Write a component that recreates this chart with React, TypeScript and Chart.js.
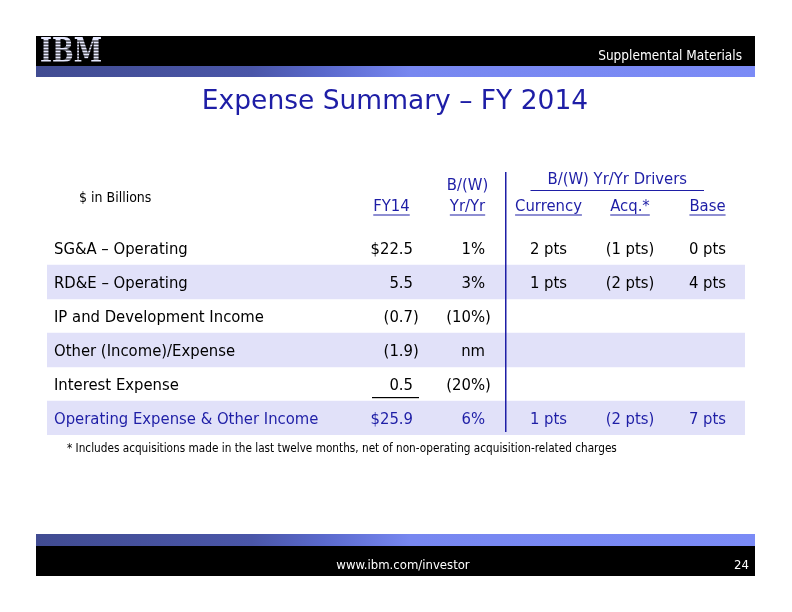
import { useEffect, useRef } from "react";
import { Chart, registerables } from "chart.js";

Chart.register(...registerables);

// ---------- data ----------
const rowLabels = [
  "SG&A – Operating",
  "RD&E – Operating",
  "IP and Development Income",
  "Other (Income)/Expense",
  "Interest Expense",
  "Operating Expense & Other Income",
];
const fy14Values = ["$22.5", "5.5", "(0.7)", "(1.9)", "0.5", "$25.9"];
const yrYrValues = ["1%", "3%", "(10%)", "nm", "(20%)", "6%"];
const currencyValues = ["2 pts", "1 pts", "", "", "", "1 pts"];
const acqValues = ["(1 pts)", "(2 pts)", "", "", "", "(2 pts)"];
const baseValues = ["0 pts", "4 pts", "", "", "", "7 pts"];
const shadedRows = [false, true, false, true, false, true];
const totalRowIndex = 5;
const underlinedRowIndex = 4;

const columnHeaders = ["FY14", "Yr/Yr", "Currency", "Acq.*", "Base"];
const groupHeader = "B/(W) Yr/Yr Drivers";
const yrYrTopHeader = "B/(W)";
const unitsNote = "$ in Billions";
const titleText = "Expense Summary – FY 2014";
const headerRight = "Supplemental Materials";
const footerText = "www.ibm.com/investor";
const pageNumber = "24";
const footnote =
  "* Includes acquisitions made in the last twelve months, net of non-operating acquisition-related charges";

// ---------- styles ----------
const FONT = '"DejaVu Sans Condensed", "DejaVu Sans", sans-serif';
const WIDE_FONT = '"DejaVu Sans", sans-serif';
const BLUE = "#1E1EA6";
const SHADE = "#E1E1F9";
const TABLE_W = 698;
const DY = 1.5;

// column anchors in x-scale units (0..TABLE_W)
const COL = {
  label: 7,
  fy14: 366,
  fy14Head: 344.5,
  yrYr: 438,
  yrYrHead: 420.5,
  divider: 458.5,
  currency: 501.5,
  acq: 583,
  base: 660.5,
  groupL: 483.5,
  groupR: 657,
  units: 32,
};

function drawChrome(ctx: CanvasRenderingContext2D) {
  ctx.save();
  // header bar
  ctx.fillStyle = "#000";
  ctx.fillRect(36, 36, 719, 30);
  const g1 = ctx.createLinearGradient(36, 0, 755, 0);
  g1.addColorStop(0, "#414C92");
  g1.addColorStop(0.3, "#4A56A8");
  g1.addColorStop(0.4, "#5A69CC");
  g1.addColorStop(0.52, "#7787F0");
  g1.addColorStop(1, "#7B8BF6");
  ctx.fillStyle = g1;
  ctx.fillRect(36, 66, 719, 11);

  // footer
  ctx.fillStyle = g1;
  ctx.fillRect(36, 534, 719, 12);
  ctx.fillStyle = "#000";
  ctx.fillRect(36, 546, 719, 30);

  // IBM logo
  ctx.font = `bold 30px "DejaVu Serif Condensed", "DejaVu Serif", serif`;
  const w = ctx.measureText("IBM").width;
  ctx.save();
  ctx.translate(40, 62);
  ctx.scale(62 / w, 24 / 22);
  ctx.fillStyle = "#E8EAFF";
  ctx.textBaseline = "alphabetic";
  ctx.fillText("IBM", 0, 0);
  ctx.restore();
  ctx.fillStyle = "#000";
  for (let y = 40.5; y < 63; y += 3) ctx.fillRect(38, y, 68, 1);

  ctx.fillStyle = "#fff";
  ctx.font = `13.5px ${FONT}`;
  ctx.textBaseline = "middle";
  ctx.textAlign = "right";
  ctx.fillText(headerRight, 742, 56);
  ctx.textAlign = "center";
  ctx.font = `13px ${FONT}`;
  ctx.fillText(footerText, 403, 566);
  ctx.textAlign = "right";
  ctx.fillText(pageNumber, 749, 566);

  // title
  ctx.fillStyle = BLUE;
  ctx.font = `26.5px ${WIDE_FONT}`;
  ctx.textAlign = "center";
  ctx.textBaseline = "alphabetic";
  ctx.fillText(titleText, 395, 109);
  ctx.restore();
}

function underline(ctx: CanvasRenderingContext2D, text: string, x: number, y: number, align: "left" | "center" | "right") {
  const w = ctx.measureText(text).width;
  let x0 = x;
  if (align === "center") x0 = x - w / 2;
  if (align === "right") x0 = x - w;
  ctx.fillRect(x0, y, w, 1);
}

const tablePlugin = {
  id: "tablePlugin",
  beforeDraw(chart: any) {
    drawChrome(chart.ctx);
  },
  afterDatasetsDraw(chart: any) {
    const ctx: CanvasRenderingContext2D = chart.ctx;
    const xs = chart.scales.x;
    const ys = chart.scales.y;
    const px = (v: number) => xs.getPixelForValue(v);
    ctx.save();
    ctx.textBaseline = "middle";
    ctx.font = `16.5px ${FONT}`;
    const parenW = ctx.measureText(")").width;

    const drawNum = (t: string, x: number, y: number) => {
      if (!t) return;
      ctx.textAlign = "right";
      ctx.fillText(t, t.endsWith(")") ? x + parenW : x, y);
    };

    rowLabels.forEach((label, i) => {
      const yc = ys.getPixelForValue(i);
      const y = yc + DY;
      ctx.fillStyle = i === totalRowIndex ? BLUE : "#000";
      ctx.textAlign = "left";
      ctx.fillText(label, px(COL.label), y);
      drawNum(fy14Values[i], px(COL.fy14), y);
      drawNum(yrYrValues[i], px(COL.yrYr), y);
      ctx.textAlign = "center";
      if (currencyValues[i]) ctx.fillText(currencyValues[i], px(COL.currency), y);
      if (acqValues[i]) ctx.fillText(acqValues[i], px(COL.acq), y);
      if (baseValues[i]) ctx.fillText(baseValues[i], px(COL.base), y);
      if (i === underlinedRowIndex) {
        ctx.fillStyle = "#000";
        ctx.fillRect(px(COL.fy14) - 41, yc + 13, 47, 1.2);
      }
    });

    // headers
    const hy = 205 + DY;
    ctx.fillStyle = BLUE;
    ctx.textAlign = "center";
    const headX = [COL.fy14Head, COL.yrYrHead, COL.currency, COL.acq, COL.base];
    columnHeaders.forEach((h, i) => {
      ctx.fillText(h, px(headX[i]), hy);
      underline(ctx, h, px(headX[i]), hy + 8, "center");
    });
    ctx.fillText(yrYrTopHeader, px(COL.yrYrHead), 184 + DY);
    ctx.fillText(groupHeader, px((COL.groupL + COL.groupR) / 2), 178 + DY);
    ctx.fillRect(px(COL.groupL), 190, px(COL.groupR) - px(COL.groupL), 1);

    // divider
    ctx.fillRect(px(COL.divider) - 0.5, 172, 1.5, 260);

    // units note
    ctx.fillStyle = "#000";
    ctx.font = `14px ${FONT}`;
    ctx.textAlign = "left";
    ctx.fillText(unitsNote, px(COL.units), 197 + DY);

    // footnote
    ctx.font = `11.7px ${FONT}`;
    ctx.fillText(footnote, px(COL.label) + 13, 447 + DY);
    ctx.restore();
  },
};

export default function App() {
  const ref = useRef<HTMLCanvasElement | null>(null);
  useEffect(() => {
    if (!ref.current) return;
    const chart = new Chart(ref.current, {
      type: "bar",
      data: {
        labels: rowLabels,
        datasets: [
          {
            data: shadedRows.map((s) => (s ? [0, TABLE_W] : null)) as any,
            backgroundColor: SHADE,
            borderWidth: 0,
            barPercentage: 1,
            categoryPercentage: 1,
          },
        ],
      },
      options: {
        indexAxis: "y",
        animation: false,
        responsive: false,
        devicePixelRatio: 1,
        layout: { padding: { left: 47, right: 47, top: 231, bottom: 177 } },
        scales: {
          x: { type: "linear", min: 0, max: TABLE_W, display: false },
          y: { type: "category", display: false, offset: true },
        },
        plugins: { legend: { display: false }, tooltip: { enabled: false } },
      },
      plugins: [tablePlugin],
    });
    return () => chart.destroy();
  }, []);
  return (
    <div style={{ position: "fixed", left: 0, top: 0, width: 792, height: 612, background: "#fff" }}>
      <canvas ref={ref} width={792} height={612} style={{ width: 792, height: 612 }} />
    </div>
  );
}
